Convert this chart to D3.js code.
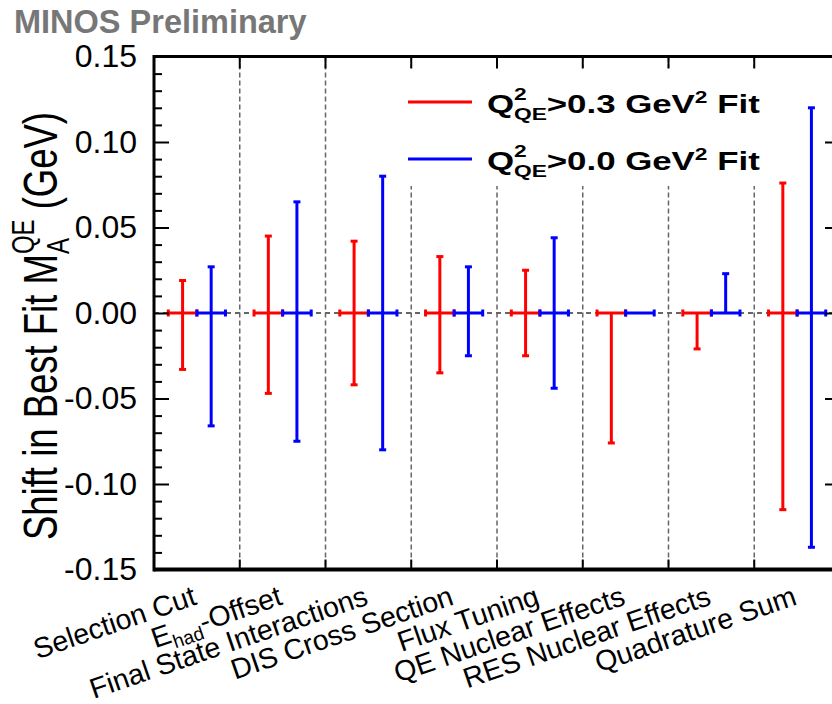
<!DOCTYPE html>
<html>
<head>
<meta charset="utf-8">
<script src="https://cdn.jsdelivr.net/npm/d3@7"></script>
<style>
  body { margin: 0; background: #fff; }
  svg { display: block; font-family: "Liberation Sans", Arial, Helvetica, sans-serif; }
</style>
</head>
<body>
<svg id="drawing_region"></svg>
<script>
// categories along x
var categories = ["Selection Cut", "E_had-Offset", "Final State Interactions", "DIS Cross Section",
                  "Flux Tuning", "QE Nuclear Effects", "RES Nuclear Effects", "Quadrature Sum"];
// Q2 > 0.3 fit (red), shifts up / down
var redUp   = [0.019, 0.045, 0.042, 0.033, 0.025, 0.000, 0.000, 0.076];
var redDown = [0.033, 0.047, 0.042, 0.035, 0.025, 0.076, 0.021, 0.115];
// Q2 > 0.0 fit (blue)
var blueUp   = [0.027, 0.065, 0.080, 0.027, 0.044, 0.000, 0.023, 0.120];
var blueDown = [0.066, 0.075, 0.080, 0.025, 0.044, 0.000, 0.000, 0.137];
var majorTicks = [-0.15, -0.10, -0.05, 0.00, 0.05, 0.10, 0.15];

var width = 832;
var height = 704;
var margin = {top: 56.5, right: -8, bottom: 134.5, left: 154};

var svg = d3.select('#drawing_region')
    .attr('width', width)
    .attr('height', height);

const x0 = margin.left, x1 = width - margin.right;
const y0 = margin.top, y1 = height - margin.bottom;

const xscale = d3.scaleBand()
      .domain(categories)
      .range([x0, x1])
      .padding(0);
const bw = xscale.bandwidth();

const yscale = d3.scaleLinear()
      .domain([-0.15, 0.15])
      .range([y1, y0]);

// dashed grid at bin edges
var edges = categories.slice(1).map(c => xscale(c));
svg.append('g').selectAll('line')
    .data(edges).join('line')
    .attr('x1', d => d).attr('x2', d => d)
    .attr('y1', y0).attr('y2', y1)
    .attr('stroke', '#666').attr('stroke-width', 1.5)
    .attr('stroke-dasharray', '5,3');

// zero line
svg.append('line')
    .attr('x1', x0).attr('x2', x1)
    .attr('y1', yscale(0)).attr('y2', yscale(0))
    .attr('stroke', '#666').attr('stroke-width', 2)
    .attr('stroke-dasharray', '5,4');

// error bars
function drawSeries(up, down, color, frac) {
  var g = svg.append('g').attr('stroke', color).attr('fill', color);
  categories.forEach(function(c, i) {
    var cx = xscale(c) + bw * frac;
    var xl = cx - bw / 6, xr = cx + bw / 6;
    var yz = yscale(0);
    g.append('line').attr('x1', xl).attr('x2', xr).attr('y1', yz).attr('y2', yz).attr('stroke-width', 3);
    g.append('rect').attr('x', xl - 1.5).attr('y', yz - 3.5).attr('width', 3).attr('height', 7).attr('stroke', 'none');
    g.append('rect').attr('x', xr - 1.5).attr('y', yz - 3.5).attr('width', 3).attr('height', 7).attr('stroke', 'none');
    var yt = yscale(up[i]), yb = yscale(-down[i]);
    g.append('line').attr('x1', cx).attr('x2', cx).attr('y1', yt).attr('y2', yb).attr('stroke-width', 3);
    if (up[i] > 0)
      g.append('rect').attr('x', cx - 3.5).attr('y', yt - 1.5).attr('width', 7).attr('height', 3).attr('stroke', 'none');
    if (down[i] > 0)
      g.append('rect').attr('x', cx - 3.5).attr('y', yb - 1.5).attr('width', 7).attr('height', 3).attr('stroke', 'none');
  });
}
drawSeries(redUp, redDown, '#ff0000', 1 / 3);
drawSeries(blueUp, blueDown, '#0000ff', 2 / 3);

// legend (white box hides grid)
svg.append('rect')
    .attr('x', 398).attr('y', 68).attr('width', 370).attr('height', 118)
    .attr('fill', '#fff');
var legendItems = [
  {color: '#ff0000', cut: '0.3', y: 102},
  {color: '#0000ff', cut: '0.0', y: 159}
];
legendItems.forEach(function(d) {
  svg.append('line')
      .attr('x1', 408).attr('x2', 472).attr('y1', d.y).attr('y2', d.y)
      .attr('stroke', d.color).attr('stroke-width', 3);
  var t = svg.append('text')
      .attr('transform', `translate(487,${d.y + 11}) scale(1.34,1)`)
      .attr('font-size', 26).attr('font-weight', 'bold').attr('fill', '#000');
  t.append('tspan').text('Q');
  t.append('tspan').attr('font-size', 17).attr('dy', 7).text('QE');
  t.append('tspan').attr('font-size', 17).attr('dx', -24.6).attr('dy', -20).text('2');
  t.append('tspan').attr('dx', 15).attr('dy', 13).text('>' + d.cut + ' GeV');
  t.append('tspan').attr('font-size', 17).attr('dy', -10).text('2');
  t.append('tspan').attr('dy', 10).text(' Fit');
});

// left axis
const yaxisMajor = d3.axisLeft(yscale)
      .tickValues(majorTicks)
      .tickSize(-15)
      .tickPadding(17)
      .tickFormat(d => d3.format('.2f')(d).replace('\u2212', '-'));
const minorTicks = d3.range(-15, 16).filter(v => v % 5 !== 0).map(v => v / 100);
const yaxisMinor = d3.axisLeft(yscale)
      .tickValues(minorTicks)
      .tickSize(-8)
      .tickFormat('');
var gl = svg.append('g').attr('transform', `translate(${x0},0)`).call(yaxisMajor);
svg.append('g').attr('transform', `translate(${x0},0)`).call(yaxisMinor);
gl.selectAll('text').attr('font-size', 32).attr('fill', '#000')
    .attr('font-family', '"Liberation Sans", Arial, sans-serif');

// right axis (ticks only)
svg.append('g').attr('transform', `translate(${x1},0)`)
    .call(d3.axisLeft(yscale).tickValues(majorTicks).tickSize(15).tickFormat(''));
svg.append('g').attr('transform', `translate(${x1},0)`)
    .call(d3.axisLeft(yscale).tickValues(minorTicks).tickSize(8).tickFormat(''));

svg.selectAll('.domain').remove();
svg.selectAll('.tick line').attr('stroke', '#000').attr('stroke-width', 2);

// bin-edge ticks on top and bottom
svg.append('g').selectAll('line').data(edges).join('line')
    .attr('x1', d => d).attr('x2', d => d).attr('y1', y0).attr('y2', y0 + 12)
    .attr('stroke', '#000').attr('stroke-width', 2);
svg.append('g').selectAll('line').data(edges).join('line')
    .attr('x1', d => d).attr('x2', d => d).attr('y1', y1).attr('y2', y1 - 10)
    .attr('stroke', '#000').attr('stroke-width', 2);

// frame
svg.append('line').attr('x1', x0).attr('x2', x1).attr('y1', y0).attr('y2', y0).attr('stroke', '#000').attr('stroke-width', 3);
svg.append('line').attr('x1', x0).attr('x2', x1).attr('y1', y1).attr('y2', y1).attr('stroke', '#000').attr('stroke-width', 4);
svg.append('line').attr('x1', x0).attr('x2', x0).attr('y1', y0 - 1.5).attr('y2', y1 + 2).attr('stroke', '#000').attr('stroke-width', 3);
svg.append('line').attr('x1', x1).attr('x2', x1).attr('y1', y0 - 1.5).attr('y2', y1 + 2).attr('stroke', '#000').attr('stroke-width', 3);

// x labels, rotated
categories.forEach(function(c) {
  var cx = xscale(c) + bw / 2;
  var t = svg.append('text')
      .attr('transform', `translate(${cx + 1},604) rotate(-19)`)
      .attr('text-anchor', 'end')
      .attr('font-size', 28.5)
      .attr('fill', '#000');
  if (c === 'E_had-Offset') {
    t.append('tspan').text('E');
    t.append('tspan').attr('font-size', 19).attr('dy', 7).text('had');
    t.append('tspan').attr('dy', -7).text('-Offset');
  } else {
    t.text(c);
  }
});

// y title
var yt = svg.append('text')
    .attr('transform', `translate(57,326) scale(1.34,1) rotate(-90)`)
    .attr('text-anchor', 'middle')
    .attr('font-size', 36.5)
    .attr('fill', '#000');
yt.append('tspan').text('Shift in Best Fit M');
yt.append('tspan').attr('font-size', 24).attr('dy', 9).text('A');
yt.append('tspan').attr('font-size', 24).attr('dx', -16).attr('dy', -26).text('QE');
yt.append('tspan').attr('dy', 17).text(' (GeV)');

// header
svg.append('text')
    .attr('x', 14).attr('y', 33)
    .attr('font-size', 32.5).attr('font-weight', 'bold')
    .attr('fill', '#777')
    .text('MINOS Preliminary');
</script>
</body>
</html>
